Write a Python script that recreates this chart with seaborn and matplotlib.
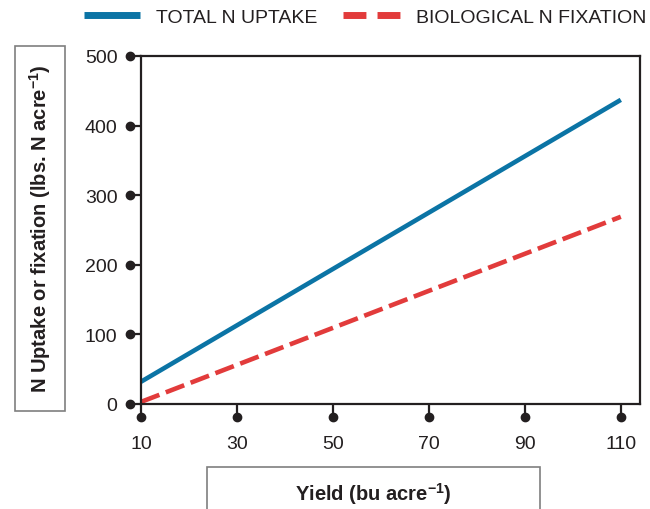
import matplotlib
matplotlib.use("Agg")
import matplotlib.pyplot as plt
import matplotlib.transforms as mtransforms
from matplotlib.patches import Rectangle
import seaborn as sns
import pandas as pd
import numpy as np

# ---- data ----
yield_bu = [10, 110]
total_uptake = [32, 437]
bio_fixation = [3, 269]
series_names = ["TOTAL N UPTAKE", "BIOLOGICAL N FIXATION"]
x_ticks = [10, 30, 50, 70, 90, 110]
y_ticks = [0, 100, 200, 300, 400, 500]
x_label = r"Yield (bu acre$^{-1}$)"
y_label = r"N Uptake or fixation (lbs. N acre$^{-1}$)"

BLUE = "#0b74a5"
RED = "#e23b3b"
DARK = "#231f20"

df = pd.DataFrame({
    "Yield": yield_bu * 2,
    "N": total_uptake + bio_fixation,
    "Series": [series_names[0]] * len(yield_bu) + [series_names[1]] * len(yield_bu),
})

sns.set_style("ticks")
plt.rcParams['font.family'] = ['Liberation Sans', 'DejaVu Sans']
plt.rcParams['mathtext.fontset'] = 'custom'
plt.rcParams['mathtext.rm'] = 'Liberation Sans:bold'
plt.rcParams['mathtext.it'] = 'Liberation Sans:bold'
plt.rcParams['mathtext.bf'] = 'Liberation Sans:bold'

W, H = 650, 510
fig = plt.figure(figsize=(6.5, 5.1), dpi=100)
ax = fig.add_axes([141 / W, 1 - 405 / H, (640 - 141) / W, (405 - 57) / H])

sns.lineplot(data=df, x="Yield", y="N", hue="Series", style="Series",
             palette=[BLUE, RED],
             dashes={series_names[0]: "", series_names[1]: (4.3, 1.5)},
             linewidth=3.3, ax=ax, legend=True)
for ln in ax.get_lines():
    ln.set_solid_capstyle("butt")
    ln.set_dash_capstyle("butt")

ax.set_xlim(10, 114)
ax.set_ylim(0, 500)
ax.set_xticks(x_ticks)
ax.set_yticks(y_ticks)
ax.set_xlabel("")
ax.set_ylabel("")

for sp in ax.spines.values():
    sp.set_visible(True)
    sp.set_color(DARK)
    sp.set_linewidth(1.6)

ax.tick_params(axis="both", colors=DARK, width=1.6, labelsize=14, labelcolor=DARK)
ax.tick_params(axis="y", length=11 * 0.72, pad=9)
ax.tick_params(axis="x", length=13 * 0.72, pad=13)

# dots at tick ends
offy = mtransforms.ScaledTranslation(-11 / 100, 0, fig.dpi_scale_trans)
ax.plot(np.zeros(len(y_ticks)), y_ticks, "o", color=DARK, ms=6,
        transform=ax.get_yaxis_transform() + offy, clip_on=False)
offx = mtransforms.ScaledTranslation(0, -13 / 100, fig.dpi_scale_trans)
ax.plot(x_ticks, np.zeros(len(x_ticks)), "o", color=DARK, ms=6,
        transform=ax.get_xaxis_transform() + offx, clip_on=False)

# legend at top
h, l = ax.get_legend_handles_labels()
ax.get_legend().remove()
leg = fig.legend(h[:2], l[:2], loc="center", bbox_to_anchor=(365 / W, 1 - 18 / H),
                 ncol=2, frameon=False, handlelength=2.9, handletextpad=0.85,
                 columnspacing=1.3,
                 prop={"family": ["Liberation Sans", "DejaVu Sans"], "size": 14})
for t in leg.get_texts():
    t.set_color(DARK)
lines = leg.get_lines()
for ln in lines:
    ln.set_linewidth(5)
    ln.set_solid_capstyle("butt")
    ln.set_dash_capstyle("butt")
lines[1].set_dashes((3.3, 1.6))

# label boxes
fig.patches.append(Rectangle((15 / W, 1 - 412 / H), 50 / W, 365 / H, fill=False,
                             edgecolor="#7f7f7f", lw=1.2, transform=fig.transFigure))
fig.patches.append(Rectangle((207 / W, 1 - 530 / H), 333 / W, 62 / H, fill=False,
                             edgecolor="#7f7f7f", lw=1.2, transform=fig.transFigure))

lbl_font = {"family": ["Liberation Sans", "DejaVu Sans"], "weight": "bold", "size": 14.5}
fig.text(40 / W, 1 - 229 / H, y_label, rotation=90, ha="center", va="center",
         color=DARK, fontdict=lbl_font)
fig.text(373 / W, 1 - 494 / H, x_label, ha="center", va="center",
         color=DARK, fontdict=lbl_font)

fig.savefig("out.png", dpi=100)
